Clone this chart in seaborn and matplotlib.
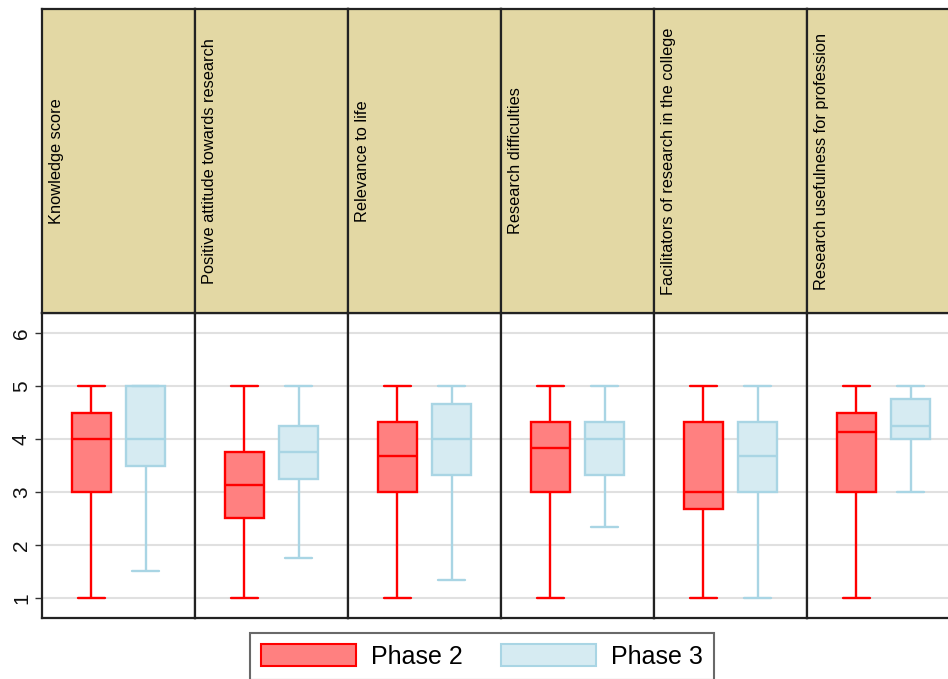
import pandas as pd
import matplotlib.pyplot as plt
import matplotlib.patches as mpatches
import seaborn as sns

sns.set_theme(style="white")
plt.rcParams['font.family'] = ['Liberation Sans', 'DejaVu Sans']

domains = ["Knowledge score", "Positive attitude towards research", "Relevance to life",
           "Research difficulties", "Facilitators of research in the college",
           "Research usefulness for profession"]
phases = ["Phase 2", "Phase 3"]

# five-number summaries: min, q1, median, q3, max
p2_min = [1, 1, 1, 1, 1, 1]
p2_q1 = [3, 2.5, 3, 3, 2.67, 3]
p2_med = [4, 3.125, 3.67, 3.83, 3, 4.125]
p2_q3 = [4.5, 3.75, 4.33, 4.33, 4.33, 4.5]
p2_max = [5, 5, 5, 5, 5, 5]

p3_min = [1.5, 1.75, 1.33, 2.33, 1, 3]
p3_q1 = [3.5, 3.25, 3.33, 3.33, 3, 4]
p3_med = [4, 3.75, 4, 4, 3.67, 4.25]
p3_q3 = [5, 4.25, 4.67, 4.33, 4.33, 4.75]
p3_max = [5, 5, 5, 5, 5, 5]

rows = []
for i, d in enumerate(domains):
    for v in [p2_min[i], p2_q1[i], p2_med[i], p2_q3[i], p2_max[i]]:
        rows.append({"domain": d, "phase": "Phase 2", "score": v})
    for v in [p3_min[i], p3_q1[i], p3_med[i], p3_q3[i], p3_max[i]]:
        rows.append({"domain": d, "phase": "Phase 3", "score": v})
df = pd.DataFrame(rows)

fill = {"Phase 2": "#FF8080", "Phase 3": "#D6EBF2"}
edge = {"Phase 2": "#FF0000", "Phase 3": "#A9D5E4"}
strip_col = "#E3D8A4"

W, H = 948, 679
fig = plt.figure(figsize=(W / 100, H / 100), dpi=100)

for i, d in enumerate(domains):
    left = (42 + 153 * i) / W
    ax = fig.add_axes([left, (H - 618) / H, 153 / W, 305 / H])
    sub = df[df.domain == d]
    for ph in phases:
        sns.boxplot(data=sub[sub.phase == ph], x="domain", y="score", hue="phase",
                    hue_order=phases, palette=fill, linecolor=edge[ph], saturation=1,
                    dodge=True, whis=(0, 100), width=0.71, gap=0.27, linewidth=1.7,
                    capwidths=0.18, legend=False, ax=ax)
    ax.set_xlim(-0.5, 0.5)
    ax.set_ylim(0.62, 6.38)
    ax.set_yticks([1, 2, 3, 4, 5, 6])
    ax.set_xticks([])
    ax.set_xlabel("")
    ax.set_ylabel("")
    ax.yaxis.grid(True, color="#E0E0E0", linewidth=1.5)
    ax.set_axisbelow(True)
    for s in ax.spines.values():
        s.set_color("#222222")
        s.set_linewidth(1.6)
    if i == 0:
        ax.tick_params(axis="y", left=True, length=5, width=1, color="#333333",
                       labelsize=15, labelcolor="#111111", pad=3)
        for lab in ax.get_yticklabels():
            lab.set_rotation(90)
            lab.set_va("center")
    else:
        ax.tick_params(axis="y", left=False, labelleft=False)

    sax = fig.add_axes([left, (H - 313) / H, 153 / W, 304 / H])
    sax.set_facecolor(strip_col)
    sax.set_xticks([])
    sax.set_yticks([])
    for s in sax.spines.values():
        s.set_color("#222222")
        s.set_linewidth(1.6)
    sax.text(0.045, 0.5, d, rotation=90, ha="left", va="center", fontsize=11.8,
             color="black", transform=sax.transAxes)

handles = [mpatches.Patch(facecolor=fill[p], edgecolor=edge[p], linewidth=1.5, label=p)
           for p in phases]
leg = fig.legend(handles=handles, loc="upper center", bbox_to_anchor=(482 / W, (H - 633) / H),
                 ncol=2, fontsize=18, frameon=True, fancybox=False, edgecolor="#444444",
                 handlelength=3.8, handleheight=0.95, handletextpad=0.6, columnspacing=1.5,
                 borderpad=0.45, borderaxespad=0, labelcolor="black")
leg.get_frame().set_linewidth(1.5)

fig.savefig("out.png", dpi=100, facecolor="white")
